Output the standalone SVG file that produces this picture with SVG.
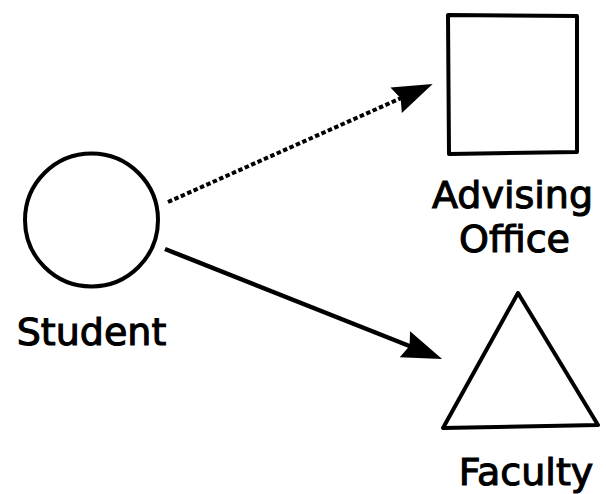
<svg xmlns="http://www.w3.org/2000/svg" width="606" height="494" viewBox="0 0 606 494">
  <style>
    .shape { fill: none; stroke: #000; stroke-width: 4; stroke-linejoin: round; }
    .label { font-family: "DejaVu Sans", "Liberation Sans", sans-serif; font-size: 38px; fill: #000; stroke: #000; stroke-width: 1.1; text-anchor: middle; }
    .link { fill: none; stroke: #000; stroke-width: 4.5; }
    .dotted { stroke-dasharray: 4.5 2.5; stroke-width: 4; }
  </style>
  <defs>
    <marker id="head" markerUnits="userSpaceOnUse" markerWidth="60" markerHeight="40" viewBox="-25 -20 60 40" refX="0" refY="0" orient="auto">
      <path d="M27,0 L-13,-14 L-8,0 L-13,14 Z" fill="#000"/>
    </marker>
  </defs>
  <rect width="606" height="494" fill="#fff"/>

  <g id="connectors">
    <line class="link dotted" x1="168" y1="202" x2="408" y2="95" marker-end="url(#head)"/>
    <line class="link" x1="165" y1="249" x2="417" y2="349" marker-end="url(#head)"/>
  </g>

  <g id="student">
    <circle class="shape" cx="91.5" cy="220" r="66.5"/>
    <text class="label" x="91.5" y="345">Student</text>
  </g>

  <g id="advising-office">
    <path class="shape" d="M448,15 L577,16 L577,152 L449,154 Z"/>
    <text class="label" x="512.5" y="208">Advising</text>
    <text class="label" x="514.5" y="252">Office</text>
  </g>

  <g id="faculty">
    <path class="shape" d="M518,293 L598,425 L443,428 Z"/>
    <text class="label" x="526" y="485">Faculty</text>
  </g>
</svg>
